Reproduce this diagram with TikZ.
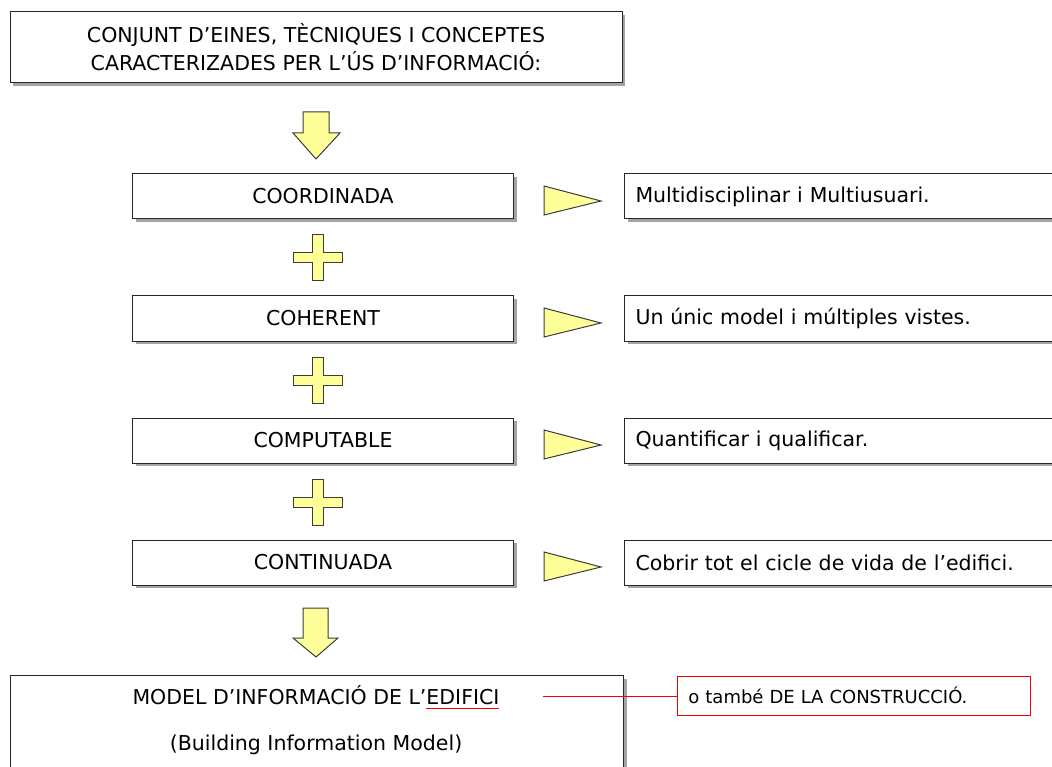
\documentclass[tikz,border=0pt]{standalone}
\usepackage{fontspec}
\setmainfont{DejaVu Sans}
\usetikzlibrary{shadows}

\definecolor{blockyellow}{RGB}{255,255,153}
\definecolor{blockline}{RGB}{60,60,60}
\newcommand\redul[1]{\setbox0\hbox{#1}\rlap{\color{red}\rule[-0.4ex]{\wd0}{0.8pt}}\box0}

\begin{document}
\begin{tikzpicture}
  [x=1pt,y=-1pt,font=\fontsize{20.5}{28}\selectfont,
   box/.style={draw=black!85,fill=white,line width=1pt,inner sep=0pt,
     drop shadow={shadow xshift=3pt,shadow yshift=-3pt,opacity=0.55,fill=black!65}},
   propbox/.style={box,minimum width=381pt,minimum height=45pt},
   descbox/.style={box,anchor=west,minimum width=460pt,minimum height=45pt,
     text width=438pt,inner xsep=11pt,align=left},
   yshape/.style={fill=blockyellow,draw=blockline,line width=1pt}]
  \useasboundingbox (0,0) rectangle (1052,767);
  \clip (0,0) rectangle (1052,767);

  \node[box,minimum width=612pt,minimum height=71pt,align=center] (tools) at (316,47.5)
    {CONJUNT D’EINES, TÈCNIQUES I CONCEPTES\\CARACTERIZADES PER L’ÚS D’INFORMACIÓ:};

  % block arrows
  \draw[yshape] (303,112) -- ++(26,0) -- ++(0,21) -- ++(11,0) -- ++(-24,26)
    -- ++(-23,-26) -- ++(10,0) -- cycle;
  \draw[yshape] (303,608) -- ++(25,0) -- ++(0,30) -- ++(10,0) -- ++(-22,19)
    -- ++(-23,-19) -- ++(10,0) -- cycle;

  \foreach \y/\prop/\desc [count=\n] in {196.5/COORDINADA/Multidisciplinar i Multiusuari.,
      318.5/COHERENT/Un únic model i múltiples vistes.,
      440.5/COMPUTABLE/Quantificar i qualificar.,
      562.5/CONTINUADA/Cobrir tot el cicle de vida de l’edifici.} {
    \node[propbox] (prop\n) at (323,\y) {\prop};
    \draw[yshape] (544,\y-10.5) -- (601,\y+4.5) -- (544,\y+18.5) -- cycle;
    \node[descbox] (desc\n) at (624,\y) {\desc};
  }

  % plus signs
  \foreach \y in {258,380,502}
    \draw[yshape] (312,\y-23) -- ++(11,0) -- ++(0,18) -- ++(19,0) -- ++(0,10)
      -- ++(-19,0) -- ++(0,18) -- ++(-11,0) -- ++(0,-18) -- ++(-19,0)
      -- ++(0,-10) -- ++(19,0) -- cycle;

  \node[box,anchor=north west,minimum width=613pt,minimum height=130pt] (model) at (10,675) {};
  \node (modelname) at (316,697) {MODEL D’INFORMACIÓ DE L’\redul{EDIFICI}};
  \node (modelen) at (316,745) {(Building Information Model)};

  \coordinate (notestart) at (543,696);
  \node[draw=red,line width=0.8pt,anchor=west,minimum width=353pt,minimum height=39pt,
    text width=331pt,inner xsep=11pt,align=left,font=\fontsize{18}{22}\selectfont]
    (note) at (677,695.5) {o també DE LA CONSTRUCCIÓ.};
  \draw[red,line width=0.8pt] (notestart) -- (notestart -| note.west);
\end{tikzpicture}
\end{document}
